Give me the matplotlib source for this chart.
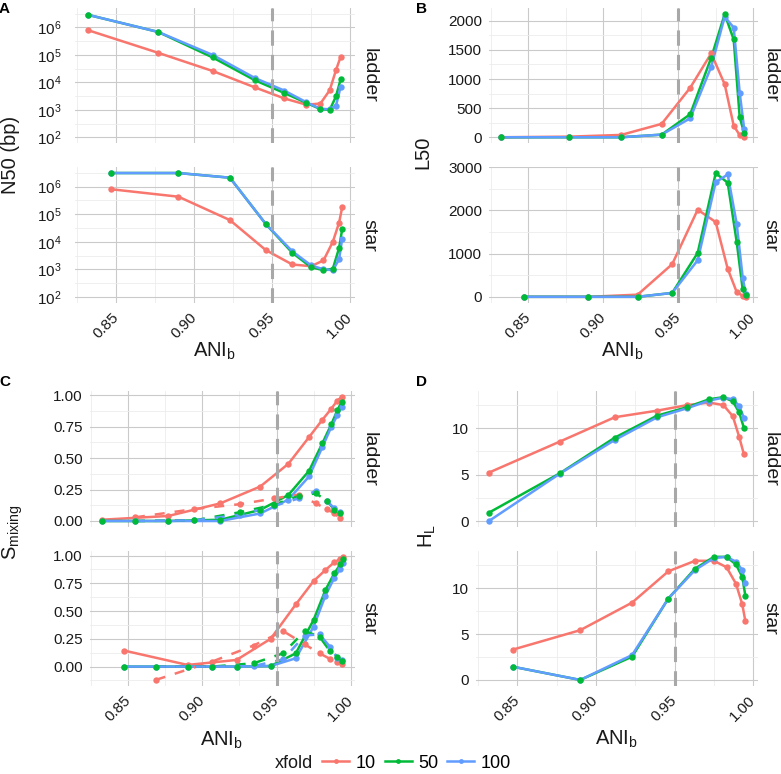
import matplotlib
matplotlib.use("Agg")
import matplotlib.pyplot as plt
from matplotlib.lines import Line2D
from matplotlib.ticker import FixedLocator, NullFormatter, LogFormatterSciNotation

plt.rcParams["font.family"] = ["Liberation Sans", "DejaVu Sans"]
plt.rcParams["mathtext.fontset"] = "custom"
plt.rcParams["mathtext.rm"] = "Liberation Sans"
plt.rcParams["mathtext.it"] = "Liberation Sans:italic"
plt.rcParams["mathtext.bf"] = "Liberation Sans:bold"

XFOLD = ["10", "50", "100"]
COLORS = {"10": "#F8766D", "50": "#00BA38", "100": "#619CFF"}

# ANI_b positions (ladder / star), and the in-between values used by the dashed S_mixing series
x_ladder = [0.832, 0.877, 0.912, 0.939, 0.958, 0.972, 0.981, 0.987, 0.991, 0.994]
x_star = [0.847, 0.890, 0.923, 0.946, 0.963, 0.975, 0.983, 0.989, 0.993, 0.995]
x_ladder_mid = [0.8545, 0.8945, 0.9255, 0.9485, 0.965, 0.9765, 0.984, 0.989, 0.9925]
x_star_mid = [0.8685, 0.9065, 0.9345, 0.9545, 0.969, 0.979, 0.986, 0.991, 0.994]

# A: N50 (bp)
n50_ladder = {
    "10": [8e5, 1.2e5, 2.6e4, 6.6e3, 2.6e3, 1.55e3, 1.7e3, 5.2e3, 2.8e4, 8.6e4],
    "50": [2.9e6, 6.9e5, 8.1e4, 1.2e4, 4.1e3, 1.8e3, 1.07e3, 1.0e3, 3.1e3, 1.3e4],
    "100": [2.9e6, 6.9e5, 1.0e5, 1.45e4, 5.0e3, 1.9e3, 1.1e3, 1.05e3, 1.4e3, 7.0e3],
}
n50_star = {
    "10": [8e5, 4.3e5, 6.1e4, 5e3, 1.5e3, 1.3e3, 2.1e3, 1e4, 4.9e4, 1.8e5],
    "50": [3.1e6, 3.1e6, 2.1e6, 4.4e4, 4e3, 1.2e3, 930, 1.05e3, 5.9e3, 2.9e4],
    "100": [3.1e6, 3.1e6, 2.1e6, 4.4e4, 4.5e3, 1.4e3, 1.0e3, 930, 2.3e3, 1.3e4],
}

# B: L50
l50_ladder = {
    "10": [0, 10, 40, 230, 850, 1440, 910, 200, 35, 5],
    "50": [0, 0, 0, 45, 395, 1365, 2115, 1680, 345, 70],
    "100": [0, 0, 0, 45, 325, 1210, 2070, 1885, 765, 140],
}
l50_star = {
    "10": [0, 0, 50, 755, 2015, 1730, 650, 110, 25, 5],
    "50": [0, 0, 0, 90, 1015, 2860, 2640, 1270, 170, 40],
    "100": [0, 0, 0, 90, 845, 2650, 2830, 1690, 445, 75],
}

# C: S_mixing (solid) and between-neighbour values (dashed)
smix_ladder = {
    "10": [0.01, 0.04, 0.14, 0.274, 0.455, 0.668, 0.806, 0.894, 0.958, 0.987],
    "50": [0.0, 0.0, 0.01, 0.088, 0.207, 0.40, 0.62, 0.77, 0.88, 0.95],
    "100": [0.0, 0.0, 0.0, 0.06, 0.17, 0.355, 0.59, 0.75, 0.84, 0.91],
}
smix_ladder_mid = {
    "10": [0.029, 0.095, 0.134, 0.18, 0.21, 0.14, 0.094, 0.06, 0.027],
    "50": [0.0, 0.005, 0.07, 0.13, 0.20, 0.22, 0.16, 0.09, 0.065],
    "100": [0.0, 0.005, 0.05, 0.12, 0.18, 0.24, 0.16, 0.10, 0.07],
}
smix_star = {
    "10": [0.145, 0.015, 0.06, 0.25, 0.56, 0.77, 0.87, 0.94, 0.97, 0.99],
    "50": [0.0, 0.0, 0.0, 0.005, 0.12, 0.42, 0.69, 0.84, 0.92, 0.97],
    "100": [0.0, 0.0, 0.0, 0.005, 0.075, 0.36, 0.64, 0.80, 0.88, 0.93],
}
smix_star_mid = {
    "10": [-0.12, 0.045, 0.19, 0.32, 0.20, 0.12, 0.07, 0.04, 0.02],
    "50": [0.0, 0.0, 0.03, 0.12, 0.32, 0.27, 0.14, 0.09, 0.05],
    "100": [0.0, 0.0, 0.005, 0.065, 0.28, 0.29, 0.18, 0.08, 0.06],
}

# D: H_L
hl_ladder = {
    "10": [5.22, 8.56, 11.19, 11.9, 12.5, 12.77, 12.5, 11.3, 9.1, 7.23],
    "50": [0.9, 5.14, 8.99, 11.37, 12.27, 13.13, 13.35, 12.9, 11.73, 10.07],
    "100": [0.0, 5.1, 8.74, 11.19, 12.16, 12.99, 13.3, 13.13, 12.41, 11.15],
}
hl_star = {
    "10": [3.3, 5.43, 8.44, 11.85, 13.0, 13.0, 12.3, 10.5, 8.26, 6.4],
    "50": [1.45, 0.0, 2.54, 8.88, 12.14, 13.43, 13.43, 12.6, 11.26, 9.16],
    "100": [1.45, 0.0, 2.72, 8.88, 12.0, 13.3, 13.43, 12.9, 12.0, 10.6],
}

W, H = 781, 774
fig = plt.figure(figsize=(W / 100, H / 100), dpi=100)
XLIM = (0.8239, 1.0032)
TXT = "#1A1A1A"


def px_axes(l, t, r, b):
    return fig.add_axes([l / W, 1 - b / H, (r - l) / W, (b - t) / H])


def expand(vals, mult=0.05):
    lo = min(min(v) for v in vals)
    hi = max(max(v) for v in vals)
    d = (hi - lo) * mult
    return lo - d, hi + d


def style(ax, bottom, ymajor, yminor, pad):
    for s in ax.spines.values():
        s.set_visible(False)
    ax.set_xlim(*XLIM)
    ax.xaxis.set_major_locator(FixedLocator([0.85, 0.90, 0.95, 1.00]))
    ax.xaxis.set_minor_locator(FixedLocator([0.825, 0.875, 0.925, 0.975]))
    ax.yaxis.set_major_locator(FixedLocator(ymajor))
    ax.yaxis.set_minor_locator(FixedLocator(yminor))
    ax.yaxis.set_minor_formatter(NullFormatter())
    ax.xaxis.set_minor_formatter(NullFormatter())
    ax.grid(which="major", color="#CACACA", lw=0.8)
    ax.grid(which="minor", color="#EDEDED", lw=0.6)
    ax.set_axisbelow(True)
    ax.tick_params(which="both", length=0, labelsize=11, labelcolor=TXT)
    ax.tick_params(axis="y", pad=pad)
    if bottom:
        ax.set_xticklabels(["0.85", "0.90", "0.95", "1.00"])
        for lab in ax.get_xticklabels():
            lab.set_rotation(45)
            lab.set_ha("right")
            lab.set_va("center")
            lab.set_rotation_mode("anchor")
        ax.tick_params(axis="x", pad=9)
    else:
        ax.set_xticklabels([])
    ax.axvline(0.95, color="#A8A8A8", lw=2.2, ls=(0, (5, 3)), zorder=5)


def draw(ax, x, series, dashed=False):
    ls = (0, (4, 4)) if dashed else "-"
    for k in XFOLD:
        ax.plot(x, series[k], color=COLORS[k], lw=1.8, ls=ls, zorder=2)
    for k in ["10", "100", "50"]:
        ax.plot(x, series[k], ls="none", marker="o", ms=4.6, mew=0,
                color=COLORS[k], zorder=3)


def strip(ax, text, xpx):
    pos = ax.get_position()
    fig.text(xpx / W, pos.y0 + pos.height / 2, text, rotation=-90,
             ha="center", va="center", fontsize=14, color=TXT)


# ---- A
a1 = px_axes(75.3, 8, 355, 143.4)
a2 = px_axes(75.3, 167, 355, 303)
for ax, x, d, lab, bot in [(a1, x_ladder, n50_ladder, "ladder", False),
                           (a2, x_star, n50_star, "star", True)]:
    draw(ax, x, d)
    ax.set_yscale("log")
    style(ax, bot, [1e2, 1e3, 1e4, 1e5, 1e6],
          [10 ** 2.5, 10 ** 3.5, 10 ** 4.5, 10 ** 5.5, 10 ** 6.5], 10)
    ax.yaxis.set_major_formatter(LogFormatterSciNotation())
    ax.set_ylim(10 ** 1.78, 10 ** 6.71)
    strip(ax, lab, 369)

# ---- B
b1 = px_axes(489, 8, 758, 143.4)
b2 = px_axes(489, 167, 758, 303)
draw(b1, x_ladder, l50_ladder)
style(b1, False, [0, 500, 1000, 1500, 2000], [250, 750, 1250, 1750], 5)
b1.set_ylim(*expand(l50_ladder.values()))
strip(b1, "ladder", 770)
draw(b2, x_star, l50_star)
style(b2, True, [0, 1000, 2000, 3000], [500, 1500, 2500], 5)
b2.set_ylim(*expand(l50_star.values()))
strip(b2, "star", 770)

# ---- C
c1 = px_axes(89.6, 390.7, 355.4, 527.2)
c2 = px_axes(89.6, 550.5, 355.4, 686.1)
for ax, x, xm, d, dm, lab, bot in [
        (c1, x_ladder, x_ladder_mid, smix_ladder, smix_ladder_mid, "ladder", False),
        (c2, x_star, x_star_mid, smix_star, smix_star_mid, "star", True)]:
    draw(ax, x, d)
    draw(ax, xm, dm, dashed=True)
    style(ax, bot, [0, 0.25, 0.5, 0.75, 1.0],
          [-0.125, 0.125, 0.375, 0.625, 0.875], 5)
    ax.set_yticklabels(["0.00", "0.25", "0.50", "0.75", "1.00"])
    ax.set_ylim(*expand(list(d.values()) + list(dm.values())))
    strip(ax, lab, 369)

# ---- D
d1 = px_axes(476.2, 391, 758.3, 527.2)
d2 = px_axes(476.2, 550.7, 758.3, 686.1)
for ax, x, d, lab, bot in [(d1, x_ladder, hl_ladder, "ladder", False),
                           (d2, x_star, hl_star, "star", True)]:
    draw(ax, x, d)
    style(ax, bot, [0, 5, 10], [2.5, 7.5, 12.5], 5)
    ax.set_ylim(*expand(d.values()))
    strip(ax, lab, 770)

# axis titles
ylabs = [("N50 (bp)", 11, 155), ("L50", 423, 152),
         (r"S$_{\mathrm{mixing}}$", 13, 532), (r"H$_{\mathrm{L}}$", 427, 536)]
for t, xp, yp in ylabs:
    fig.text(xp / W, 1 - yp / H, t, rotation=90, ha="center", va="center",
             fontsize=14.5, color=TXT)
for xp, yp in [(215, 351), (623, 351), (222, 740), (617, 739)]:
    fig.text(xp / W, 1 - yp / H, r"ANI$_{\mathrm{b}}$", ha="center",
             va="center", fontsize=14.5, color=TXT)

# panel letters
for t, xp, yp in [("A", 4, 9), ("B", 422, 9), ("C", 5, 382), ("D", 422, 382)]:
    fig.text(xp / W, 1 - yp / H, t, ha="center", va="center",
             fontsize=11, fontweight="bold", color="black")

# legend
fig.text(275 / W, 1 - 763 / H, "xfold", ha="left", va="center",
         fontsize=13, color=TXT)
handles = [Line2D([], [], color=COLORS[k], lw=1.8, marker="o", ms=3.5, mew=0)
           for k in XFOLD]
fig.legend(handles, XFOLD, loc="center left",
           bbox_to_anchor=(322 / W, 1 - 763 / H), ncol=3, frameon=False,
           fontsize=13, handlelength=1.5, handletextpad=0.35,
           columnspacing=0.5, borderpad=0, borderaxespad=0)

fig.savefig("out.png", dpi=100)
